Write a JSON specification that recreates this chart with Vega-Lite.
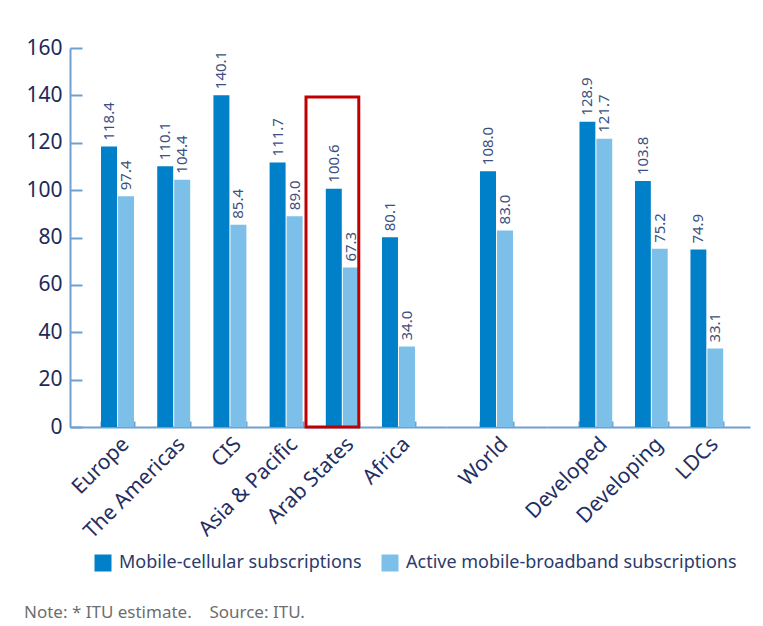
{
  "$schema": "https://vega.github.io/schema/vega-lite/v6.json",
  "autosize": {"type": "pad"},
  "padding": {"left": 24, "top": 37, "right": 5, "bottom": 5},
  "background": "white",
  "spacing": 0,
  "bounds": "flush",
  "config": {
    "view": {"stroke": null},
    "font": "Noto Sans",
    "axisX": {
      "title": null,
      "labelAngle": -45,
      "labelFontSize": 21,
      "labelColor": "#1f2f63",
      "labelPadding": 12,
      "domainColor": "#6fa0d0",
      "domainWidth": 2,
      "tickColor": "#6fa0d0",
      "tickWidth": 2,
      "tickSize": -6,
      "tickBand": "extent"
    },
    "axisY": {
      "title": null,
      "grid": false,
      "labelFontSize": 21,
      "labelColor": "#1b2a5a",
      "labelPadding": 20,
      "domainColor": "#6fa0d0",
      "domainWidth": 2,
      "tickColor": "#6fa0d0",
      "tickWidth": 2,
      "tickSize": -12
    },
    "text": {"fontSize": 15}
  },
  "title": {
    "text": "Note: * ITU estimate.\u00a0\u00a0\u00a0\u00a0Source: ITU.",
    "orient": "bottom",
    "anchor": "start",
    "frame": "group",
    "dx": -46,
    "offset": 33,
    "fontSize": 17,
    "fontWeight": "normal",
    "color": "#6e6e6e"
  },
  "datasets": {
    "bars": [
      {"region": "Europe", "series": "Mobile-cellular subscriptions", "value": 118.4},
      {"region": "Europe", "series": "Active mobile-broadband subscriptions", "value": 97.4},
      {"region": "The Americas", "series": "Mobile-cellular subscriptions", "value": 110.1},
      {"region": "The Americas", "series": "Active mobile-broadband subscriptions", "value": 104.4},
      {"region": "CIS", "series": "Mobile-cellular subscriptions", "value": 140.1},
      {"region": "CIS", "series": "Active mobile-broadband subscriptions", "value": 85.4},
      {"region": "Asia & Pacific", "series": "Mobile-cellular subscriptions", "value": 111.7},
      {"region": "Asia & Pacific", "series": "Active mobile-broadband subscriptions", "value": 89.0},
      {"region": "Arab States", "series": "Mobile-cellular subscriptions", "value": 100.6},
      {"region": "Arab States", "series": "Active mobile-broadband subscriptions", "value": 67.3},
      {"region": "Africa", "series": "Mobile-cellular subscriptions", "value": 80.1},
      {"region": "Africa", "series": "Active mobile-broadband subscriptions", "value": 34.0},
      {"region": "World", "series": "Mobile-cellular subscriptions", "value": 108.0},
      {"region": "World", "series": "Active mobile-broadband subscriptions", "value": 83.0},
      {"region": "Developed", "series": "Mobile-cellular subscriptions", "value": 128.9},
      {"region": "Developed", "series": "Active mobile-broadband subscriptions", "value": 121.7},
      {"region": "Developing", "series": "Mobile-cellular subscriptions", "value": 103.8},
      {"region": "Developing", "series": "Active mobile-broadband subscriptions", "value": 75.2},
      {"region": "LDCs", "series": "Mobile-cellular subscriptions", "value": 74.9},
      {"region": "LDCs", "series": "Active mobile-broadband subscriptions", "value": 33.1}
    ],
    "highlight": [
      {"region": "Arab States", "top": 139.3}
    ]
  },
  "resolve": {
    "scale": {"x": "independent", "xOffset": "independent", "y": "independent"},
    "axis": {"x": "independent", "y": "independent"}
  },
  "hconcat": [
    {
      "width": 376,
      "height": 379,
      "data": {"name": "bars"},
      "transform": [{"filter": {"field": "region", "oneOf": ["Europe", "The Americas", "CIS", "Asia & Pacific", "Arab States", "Africa"]}}],
      "encoding": {
        "x": {
          "field": "region",
          "type": "nominal",
          "title": null,
          "sort": ["Europe", "The Americas", "CIS", "Asia & Pacific", "Arab States", "Africa"],
          "scale": {"paddingInner": 0.413, "paddingOuter": 0.552}
        },
        "xOffset": {
          "field": "series",
          "type": "nominal",
          "sort": ["Mobile-cellular subscriptions", "Active mobile-broadband subscriptions"],
          "scale": {"paddingInner": 0.06}
        },
        "y": {
          "field": "value",
          "type": "quantitative",
          "title": null,
          "scale": {"domain": [0, 160], "nice": false},
          "axis": {"values": [0, 20, 40, 60, 80, 100, 120, 140, 160]}
        }
      },
      "layer": [
        {
          "mark": {"type": "bar"},
          "encoding": {
            "color": {
              "field": "series",
              "type": "nominal",
              "scale": {
                "domain": ["Mobile-cellular subscriptions", "Active mobile-broadband subscriptions"],
                "range": ["#0080c8", "#7cc0ea"]
              },
              "legend": {
                "title": null,
                "orient": "none",
                "legendX": 24,
                "legendY": 506,
                "direction": "horizontal",
                "symbolType": "square",
                "symbolSize": 289,
                "symbolStrokeWidth": 0,
                "labelFontSize": 18,
                "labelLimit": 500,
                "labelColor": "#2b3a6b",
                "labelOffset": 7,
                "columnPadding": 19
              }
            }
          }
        },
        {
          "mark": {"type": "text", "angle": 270, "align": "left", "baseline": "middle", "dx": 6, "color": "#3d4f80"},
          "encoding": {
            "text": {"field": "value", "type": "quantitative", "format": ".1f"}
          }
        },
        {
          "data": {"name": "highlight"},
          "mark": {"type": "rect", "fill": null, "stroke": "#c00000", "strokeWidth": 3},
          "encoding": {
            "x": {"field": "region", "type": "nominal", "bandPosition": -0.6},
            "x2": {"field": "region", "bandPosition": 1.0},
            "xOffset": null,
            "y": {"field": "top", "type": "quantitative"},
            "y2": {"datum": 0}
          }
        }
      ]
    },
    {
      "width": 101,
      "height": 379,
      "data": {"name": "bars"},
      "transform": [{"filter": {"field": "region", "equal": "World"}}],
      "encoding": {
        "x": {
          "field": "region",
          "type": "nominal",
          "title": null,
          "scale": {"paddingInner": 0.41, "paddingOuter": 0.607}
        },
        "xOffset": {
          "field": "series",
          "type": "nominal",
          "sort": ["Mobile-cellular subscriptions", "Active mobile-broadband subscriptions"],
          "scale": {"paddingInner": 0.06}
        },
        "y": {
          "field": "value",
          "type": "quantitative",
          "title": null,
          "scale": {"domain": [0, 160], "nice": false},
          "axis": null
        }
      },
      "layer": [
        {
          "mark": {"type": "bar"},
          "encoding": {
            "color": {
              "field": "series",
              "type": "nominal",
              "scale": {
                "domain": ["Mobile-cellular subscriptions", "Active mobile-broadband subscriptions"],
                "range": ["#0080c8", "#7cc0ea"]
              }
            }
          }
        },
        {
          "mark": {"type": "text", "angle": 270, "align": "left", "baseline": "middle", "dx": 6, "color": "#3d4f80"},
          "encoding": {
            "text": {"field": "value", "type": "quantitative", "format": ".1f"}
          }
        }
      ]
    },
    {
      "width": 203,
      "height": 379,
      "data": {"name": "bars"},
      "transform": [{"filter": {"field": "region", "oneOf": ["Developed", "Developing", "LDCs"]}}],
      "encoding": {
        "x": {
          "field": "region",
          "type": "nominal",
          "title": null,
          "sort": ["Developed", "Developing", "LDCs"],
          "scale": {"paddingInner": 0.41, "paddingOuter": 0.534, "align": 0.548}
        },
        "xOffset": {
          "field": "series",
          "type": "nominal",
          "sort": ["Mobile-cellular subscriptions", "Active mobile-broadband subscriptions"],
          "scale": {"paddingInner": 0.06}
        },
        "y": {
          "field": "value",
          "type": "quantitative",
          "title": null,
          "scale": {"domain": [0, 160], "nice": false},
          "axis": null
        }
      },
      "layer": [
        {
          "mark": {"type": "bar"},
          "encoding": {
            "color": {
              "field": "series",
              "type": "nominal",
              "scale": {
                "domain": ["Mobile-cellular subscriptions", "Active mobile-broadband subscriptions"],
                "range": ["#0080c8", "#7cc0ea"]
              }
            }
          }
        },
        {
          "mark": {"type": "text", "angle": 270, "align": "left", "baseline": "middle", "dx": 6, "color": "#3d4f80"},
          "encoding": {
            "text": {"field": "value", "type": "quantitative", "format": ".1f"}
          }
        }
      ]
    }
  ]
}
